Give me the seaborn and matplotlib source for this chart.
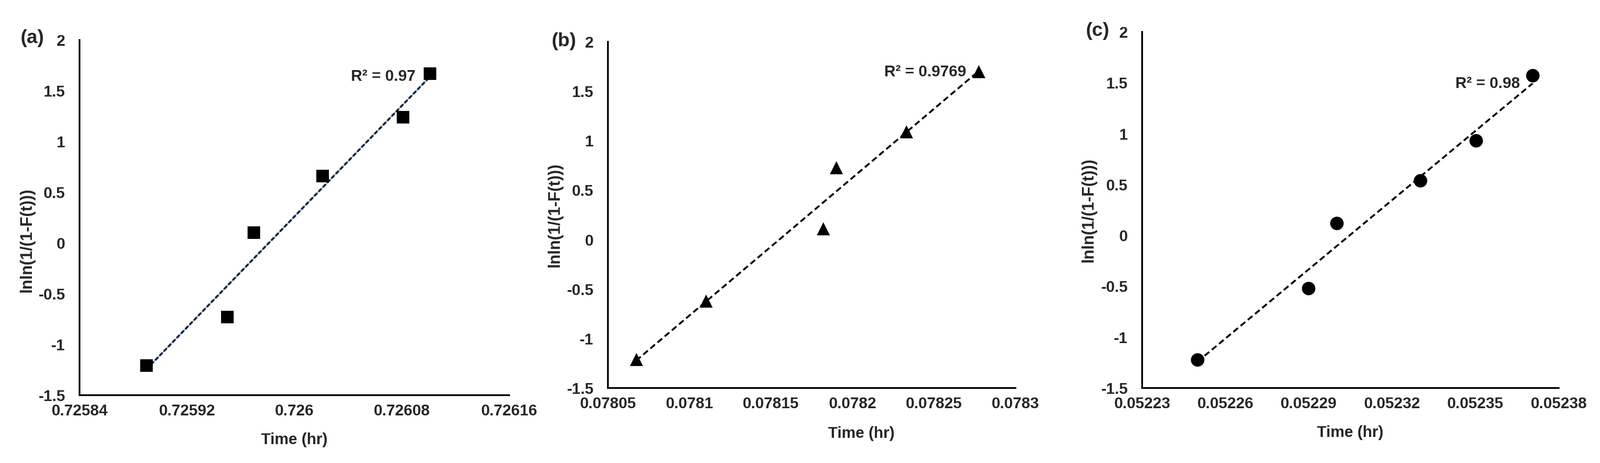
import matplotlib
matplotlib.use("Agg")
import matplotlib.pyplot as plt
import seaborn as sns
import pandas as pd

# ------- DATA -------

time_a = [0.725890, 0.725950, 0.725970, 0.726021, 0.726081, 0.726101]
val_a = [-1.21, -0.73, 0.10, 0.66, 1.24, 1.67]

time_b = [0.0780673, 0.0781101, 0.078182, 0.07819, 0.078233, 0.0782774]
val_b = [-1.21, -0.62, 0.11, 0.73, 1.09, 1.70]

time_c = [0.0522499, 0.0522899, 0.0523001, 0.0523302, 0.0523502, 0.0523706]
val_c = [-1.22, -0.52, 0.12, 0.54, 0.93, 1.57]

xticks_a = [0.72584, 0.72592, 0.72600, 0.72608, 0.72616]
xlabels_a = ["0.72584", "0.72592", "0.726", "0.72608", "0.72616"]
xticks_b = [0.07805, 0.07810, 0.07815, 0.07820, 0.07825, 0.07830]
xlabels_b = ["0.07805", "0.0781", "0.07815", "0.0782", "0.07825", "0.0783"]
xticks_c = [0.05223, 0.05226, 0.05229, 0.05232, 0.05235, 0.05238]
xlabels_c = ["0.05223", "0.05226", "0.05229", "0.05232", "0.05235", "0.05238"]

yticks = [-1.5, -1, -0.5, 0, 0.5, 1, 1.5, 2]
ylabels = ["-1.5", "-1", "-0.5", "0", "0.5", "1", "1.5", "2"]

r2_text = ["R\u00b2 = 0.97", "R\u00b2 = 0.9769", "R\u00b2 = 0.98"]
panel_tags = ["(a)", "(b)", "(c)"]

# ------- STYLE -------

sns.set_theme(style="white")
plt.rcParams["font.family"] = ["Liberation Sans", "DejaVu Sans"]
plt.rcParams["font.weight"] = "bold"
plt.rcParams["axes.unicode_minus"] = False

W, H = 3562, 1031
fig = plt.figure(figsize=(W / 100, H / 100), dpi=100)

# axes boxes in pixels: left, right, top, bottom
boxes = [(177, 1133, 89, 880), (1353, 2260, 93, 864), (2542, 3469, 71, 864)]
panels = [
    (time_a, val_a, "s", 400, xticks_a, xlabels_a, (-0.122, 0.436), (0.5, -0.126)),
    (time_b, val_b, "^", 440, xticks_b, xlabels_b, (-0.130, 0.5), (0.622, -0.132)),
    (time_c, val_c, "o", 466, xticks_c, xlabels_c, (-0.128, 0.5), (0.5, -0.126)),
]
tag_pos = [(72, 85), (1255, 92), (2443, 69)]
r2_pos = [(925, 170), (2150, 160), (3383, 187)]

for i, (box, p) in enumerate(zip(boxes, panels)):
    l, r, t, b = box
    times, vals, mk, size, xt, xl, ylab_pos, xlab_pos = p
    ax = fig.add_axes([l / W, 1 - b / H, (r - l) / W, (b - t) / H])
    df = pd.DataFrame({"t": times, "v": vals})

    # linear trendline (fitted by seaborn over the data range)
    if i == 0:
        sns.regplot(data=df, x="t", y="v", ax=ax, scatter=False, ci=None,
                    line_kws={"color": "#5b9bd5", "lw": 1.5, "zorder": 2})
        sns.regplot(data=df, x="t", y="v", ax=ax, scatter=False, ci=None,
                    line_kws={"color": "#1c2838", "lw": 3.3,
                              "linestyle": (0, (2.0, 1.0)), "zorder": 3})
    else:
        sns.regplot(data=df, x="t", y="v", ax=ax, scatter=False, ci=None,
                    line_kws={"color": "black", "lw": 3.0,
                              "linestyle": (0, (3.2, 1.8)), "zorder": 3})

    sns.scatterplot(data=df, x="t", y="v", ax=ax, marker=mk, s=size,
                    color="black", edgecolor="black", linewidth=0, zorder=4)

    ax.set_xlim(xt[0], xt[-1])
    ax.set_ylim(-1.5, 2)
    ax.set_xticks(xt)
    ax.set_xticklabels(xl)
    ax.set_yticks(yticks)
    ax.set_yticklabels(ylabels)
    ax.tick_params(axis="x", length=0, pad=14, labelsize=25)
    ax.tick_params(axis="y", length=0, pad=23, labelsize=25)
    for lab in ax.get_xticklabels() + ax.get_yticklabels():
        lab.set_fontweight("bold")

    sns.despine(ax=ax)
    for s in ["left", "bottom"]:
        ax.spines[s].set_color("black")
        ax.spines[s].set_linewidth(2.8)
    ax.grid(False)

    ax.set_xlabel("Time (hr)", fontsize=25, fontweight="bold")
    ax.set_ylabel("lnln(1/(1-F(t)))", fontsize=26, fontweight="bold")
    ax.xaxis.set_label_coords(*xlab_pos)
    ax.yaxis.set_label_coords(*ylab_pos)
    ax.xaxis.label.set_va("center")
    ax.yaxis.label.set_va("center")

    fig.text(tag_pos[i][0] / W, 1 - tag_pos[i][1] / H, panel_tags[i],
             fontsize=31, fontweight="bold", ha="center", va="center")
    fig.text(r2_pos[i][0] / W, 1 - r2_pos[i][1] / H, r2_text[i],
             fontsize=25, fontweight="bold", ha="right", va="center")

fig.savefig("out.png", dpi=100, facecolor="white")
